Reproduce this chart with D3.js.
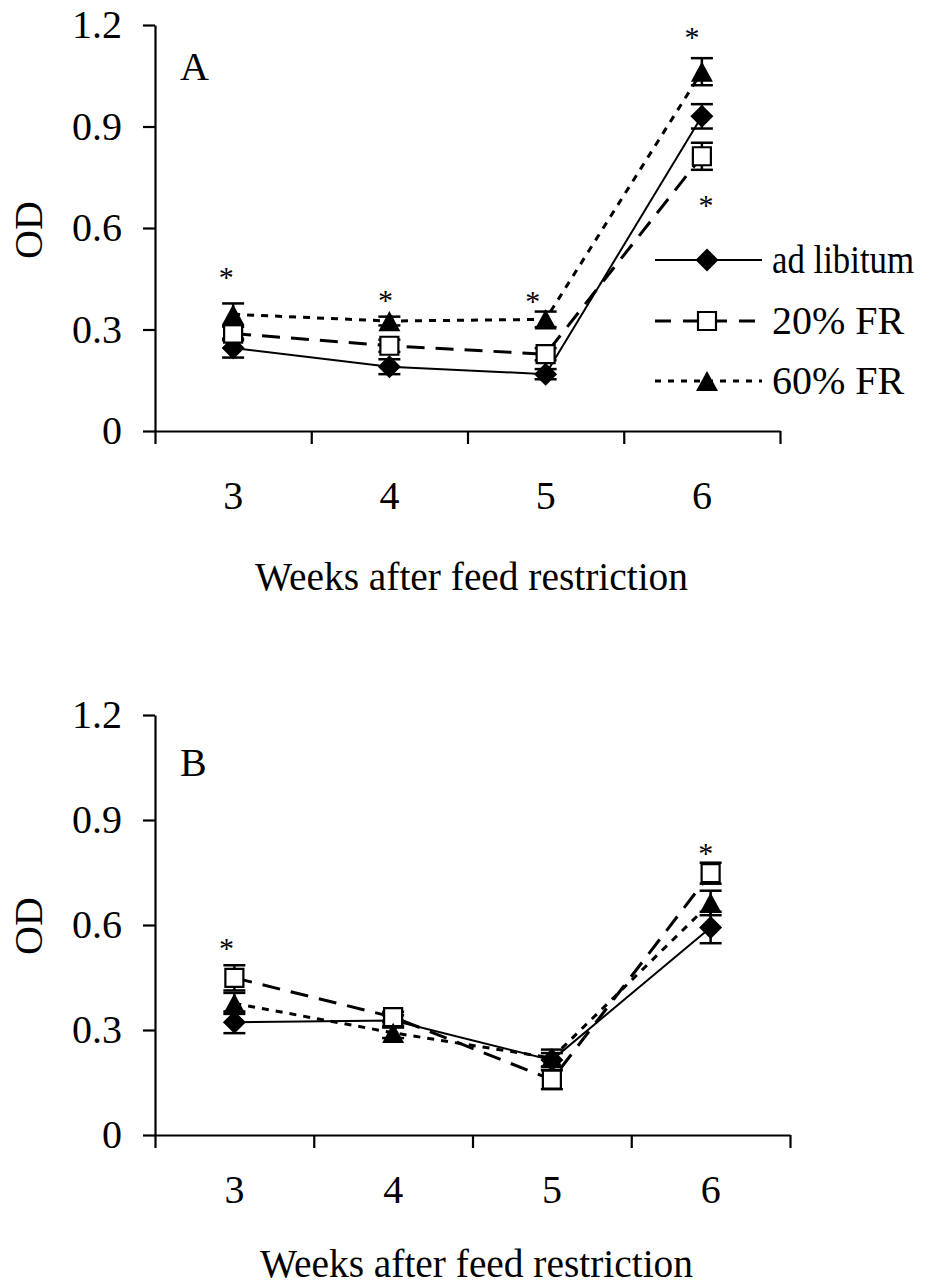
<!DOCTYPE html>
<html>
<head>
<meta charset="utf-8">
<script src="https://cdn.jsdelivr.net/npm/d3@7"></script>
<style>
  html, body { margin: 0; padding: 0; background: #fff; }
</style>
</head>
<body>
<svg id="chart" width="929" height="1286"></svg>
<script>
// Weeks on the x axis and OD tick labels
const weeks = ["3", "4", "5", "6"];
const odTicks = [0, 0.3, 0.6, 0.9, 1.2];
const odTickLabels = ["0", "0.3", "0.6", "0.9", "1.2"];
const seriesNames = ["ad libitum", "20% FR", "60% FR"];

// Panel A: means and error bars
const adLibA = [0.245, 0.190, 0.168, 0.930];
const adLibErrA = [0.028, 0.022, 0.015, 0.036];
const fr20A = [0.288, 0.252, 0.227, 0.812];
const fr20ErrA = [0.020, 0.018, 0.018, 0.040];
const fr60A = [0.345, 0.325, 0.330, 1.062];
const fr60ErrA = [0.032, 0.013, 0.023, 0.040];

// Panel B: means and error bars
const adLibB = [0.322, 0.327, 0.214, 0.593];
const adLibErrB = [0.031, 0.015, 0.020, 0.045];
const fr20B = [0.449, 0.337, 0.158, 0.748];
const fr20ErrB = [0.036, 0.015, 0.027, 0.030];
const fr60B = [0.376, 0.292, 0.220, 0.663];
const fr60ErrB = [0.030, 0.015, 0.024, 0.035];

// Significance marks (week, OD level of the asterisk)
const starWeeksA = ["3", "4", "5", "6", "6"];
const starLevelsA = [0.471, 0.402, 0.399, 1.180, 0.683];
const starWeeksB = ["3", "6"];
const starLevelsB = [0.548, 0.819];

const svg = d3.select("#chart");
const FONT = 40;
const SERIF = "'Liberation Serif', 'Times New Roman', serif";

// marker shapes
const diamondSym = { draw(ctx, size) { const r = Math.sqrt(size) / 2; ctx.moveTo(0, -r); ctx.lineTo(r, 0); ctx.lineTo(0, r); ctx.lineTo(-r, 0); ctx.closePath(); } };
const squareSym = { draw(ctx, size) { const r = Math.sqrt(size) / 2; ctx.rect(-r, -r, 2 * r, 2 * r); } };
const triangleSym = { draw(ctx, size) { const w = Math.sqrt(size) / 2; const h = w * 0.92; ctx.moveTo(0, -h); ctx.lineTo(w, h); ctx.lineTo(-w, h); ctx.closePath(); } };

const styles = [
  { sym: diamondSym, size: 23 * 23, fill: "#000", stroke: "none", sw: 0, dash: null, lw: 2 },
  { sym: squareSym, size: 18 * 18, fill: "#fff", stroke: "#000", sw: 2.2, dash: "18,11", lw: 3 },
  { sym: triangleSym, size: 22 * 22, fill: "#000", stroke: "none", sw: 0, dash: "7,7", lw: 3 }
];

function panel(opts) {
  const { left, right, top, bottom, means, errs, starWeeks, starLevels, starNudge, letter, letterY, labelGap, titleY, odY } = opts;

  const y = d3.scaleLinear().domain([0, 1.2]).range([bottom, top]);
  const xBand = d3.scaleBand().domain(weeks).range([left, right]);
  const xEdge = d3.scaleLinear().domain([0, weeks.length]).range([left, right]);
  const cx = w => xBand(w) + xBand.bandwidth() / 2;

  const g = svg.append("g");

  // y axis
  const yAxis = g.append("g").attr("transform", `translate(${left},0)`)
    .call(d3.axisLeft(y).tickValues(odTicks).tickFormat((d, i) => odTickLabels[i])
      .tickSize(12).tickPadding(21).tickSizeOuter(0));
  // x axis: ticks on the week boundaries
  const xAxis = g.append("g").attr("transform", `translate(0,${bottom})`)
    .call(d3.axisBottom(xEdge).tickValues(d3.range(weeks.length + 1)).tickFormat("")
      .tickSize(13).tickSizeOuter(0));
  // week labels in the middle of each interval
  const xLab = g.append("g").attr("transform", `translate(0,${bottom})`)
    .call(d3.axisBottom(xBand).tickSize(0).tickPadding(labelGap));
  xLab.select(".domain").remove();

  [yAxis, xAxis].forEach(a => {
    a.select(".domain").attr("stroke", "#000").attr("stroke-width", 2.2);
    a.selectAll(".tick line").attr("stroke", "#000").attr("stroke-width", 2.2);
  });
  [yAxis, xLab].forEach(a => a.selectAll("text")
    .attr("font-size", FONT).attr("fill", "#000"));

  // axis titles
  g.append("text").attr("x", (left + right) / 2 + 4).attr("y", titleY)
    .attr("text-anchor", "middle").attr("font-size", FONT).attr("textLength", 433)
    .attr("lengthAdjust", "spacingAndGlyphs")
    .text("Weeks after feed restriction");
  g.append("text").attr("transform", `translate(42,${odY}) rotate(-90)`)
    .attr("text-anchor", "middle").attr("font-size", FONT).text("OD");
  g.append("text").attr("x", left + 25).attr("y", letterY).attr("font-size", FONT).text(letter);

  // series
  means.forEach((vals, s) => {
    const st = styles[s];
    const pts = weeks.map((w, i) => ({ w, v: vals[i], e: errs[s][i] }));
    const sg = g.append("g");
    sg.append("path").datum(pts)
      .attr("d", d3.line().x(d => cx(d.w)).y(d => y(d.v)))
      .attr("fill", "none").attr("stroke", "#000").attr("stroke-width", st.lw)
      .attr("stroke-dasharray", st.dash);
    const eb = sg.selectAll(".eb").data(pts).enter().append("g");
    eb.append("line").attr("x1", d => cx(d.w)).attr("x2", d => cx(d.w))
      .attr("y1", d => y(d.v - d.e)).attr("y2", d => y(d.v + d.e))
      .attr("stroke", "#000").attr("stroke-width", 2.5);
    [-1, 1].forEach(sgn => eb.append("line")
      .attr("x1", d => cx(d.w) - 11).attr("x2", d => cx(d.w) + 11)
      .attr("y1", d => y(d.v + sgn * d.e)).attr("y2", d => y(d.v + sgn * d.e))
      .attr("stroke", "#000").attr("stroke-width", 2.5));
    sg.selectAll(".mk").data(pts).enter().append("path")
      .attr("transform", d => `translate(${cx(d.w)},${y(d.v)})`)
      .attr("d", d3.symbol().type(st.sym).size(st.size)())
      .attr("fill", st.fill).attr("stroke", st.stroke).attr("stroke-width", st.sw);
  });

  // asterisks
  g.selectAll(".star").data(starWeeks.map((w, i) => ({ w, v: starLevels[i], dx: starNudge[i] })))
    .enter().append("text")
    .attr("x", d => cx(d.w) + d.dx).attr("y", d => y(d.v) + 15)
    .attr("text-anchor", "middle").attr("font-size", 30).text("*");

  return { y, cx };
}

panel({
  left: 155, right: 780, top: 25, bottom: 431,
  means: [adLibA, fr20A, fr60A], errs: [adLibErrA, fr20ErrA, fr60ErrA],
  starWeeks: starWeeksA, starLevels: starLevelsA, starNudge: [-7, -4, -13, -10, 4],
  letter: "A", letterY: 80, labelGap: 50, titleY: 590, odY: 230
});

panel({
  left: 155, right: 790, top: 715, bottom: 1135,
  means: [adLibB, fr20B, fr60B], errs: [adLibErrB, fr20ErrB, fr60ErrB],
  starWeeks: starWeeksB, starLevels: starLevelsB, starNudge: [-8, -5],
  letter: "B", letterY: 776, labelGap: 40, titleY: 1277, odY: 926
});

// legend (panel A)
const legendRows = [260, 321, 381];
const lg = svg.append("g");
seriesNames.forEach((name, s) => {
  const st = styles[s];
  const ry = legendRows[s];
  lg.append("line").attr("x1", 655).attr("x2", 762).attr("y1", ry).attr("y2", ry)
    .attr("stroke", "#000").attr("stroke-width", s === 0 ? 2 : 3)
    .attr("stroke-dasharray", s === 1 ? "16,12" : s === 2 ? "6,7" : null);
  lg.append("path").attr("transform", `translate(707,${ry})`)
    .attr("d", d3.symbol().type(st.sym).size(st.size)())
    .attr("fill", st.fill).attr("stroke", st.stroke).attr("stroke-width", st.sw);
  // the first entry is set a little condensed so it stays inside the page
  lg.append("text")
    .attr("transform", `translate(772,${ry + 13}) scale(${s === 0 ? 0.87 : 1},1)`)
    .attr("font-size", FONT).text(name);
});

// serif face for every label
svg.selectAll("text").style("font-family", SERIF).style("fill", "#000");
</script>
</body>
</html>
